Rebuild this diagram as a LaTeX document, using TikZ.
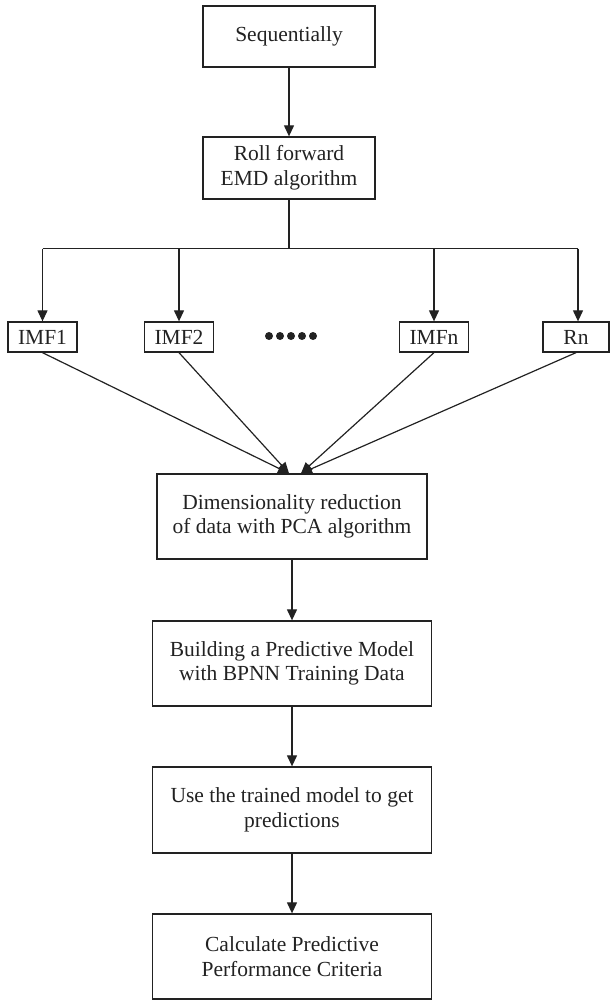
\documentclass[tikz,border=0pt]{standalone}
\usepackage{fontspec}
\setmainfont{Liberation Serif}
\usetikzlibrary{arrows.meta,calc}
\definecolor{ink}{HTML}{222222}
\begin{document}
\begin{tikzpicture}[x=1pt,y=-1pt,
  every node/.style={font=\fontsize{21.5}{24.5}\selectfont, text=ink},
  box/.style={draw=ink, line width=1.3pt, rectangle, align=center, inner sep=0pt},
  mainbox/.style={box, minimum width=172pt, minimum height=61pt},
  imfbox/.style={box, minimum width=69pt, minimum height=30pt},
  lowbox/.style={box, minimum width=279pt, minimum height=85pt},
  link/.style={draw=ink, line width=1.2pt},
  arr/.style={link, -{Triangle[length=11pt,width=10pt]}},
]
\useasboundingbox (0,0) rectangle (610,1000);

% upper column
\node[mainbox] (seq)  at (289,36.5) {Sequentially};
\node[mainbox, minimum height=62pt] (roll) at (289,168) {Roll forward\\EMD algorithm};

% decomposition components
\node[imfbox] (imf1) at (42.5,337) {IMF1};
\node[imfbox] (imf2) at (179,337)  {IMF2};
\node[imfbox] (imfn) at (434,337)  {IMFn};
\node[imfbox, minimum width=66pt] (rn) at (576,337) {Rn};

% lower column
\node[lowbox, minimum width=270pt] (dim) at (292,516.5) {Dimensionality reduction\\of data with PCA algorithm};
\node[lowbox] (build) at (292,663.5) {Building a Predictive Model\\with BPNN Training Data};
\node[lowbox, minimum height=86pt] (use) at (292,810) {Use the trained model to get\\predictions};
\node[lowbox] (calc) at (292,956.5) {Calculate Predictive\\Performance Criteria};

% ellipsis between IMF2 and IMFn
\foreach \cx in {269,280,291,302,313}
  \fill[ink] (\cx,336) circle (4pt);

% branch bar
\coordinate (bar) at (289,248.5);
\coordinate (b1) at (42.5,248.5);
\coordinate (b2) at (179,248.5);
\coordinate (bn) at (434,248.5);
\coordinate (br) at (578,248.5);

\draw[arr] (seq) -- (roll);
\draw[link] (roll.south) -- (bar);
\draw[link] (b1) -- (br);
\draw[arr] (b1) -- (imf1.north);
\draw[arr] (b2) -- (imf2.north);
\draw[arr] (bn) -- (imfn.north);
\draw[arr] (br) -- (br |- rn.north);

% convergence onto the PCA box
\coordinate (cl) at ($(dim.north)+(-3,0)$);
\coordinate (cr) at ($(dim.north)+(9,0)$);
\draw[arr] (imf1.south) -- (cl);
\draw[arr] (imf2.south) -- (cl);
\draw[arr] (imfn.south) -- (cr);
\draw[arr] (rn.south) -- (cr);

\draw[arr] (dim) -- (build);
\draw[arr] (build) -- (use);
\draw[arr] (use) -- (calc);
\end{tikzpicture}
\end{document}
